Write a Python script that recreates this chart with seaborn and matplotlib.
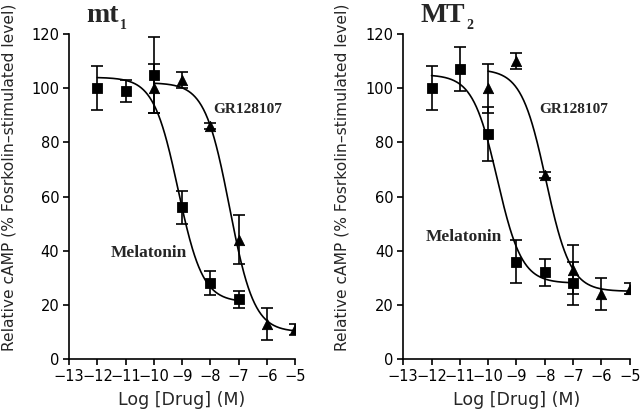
import numpy as np
import pandas as pd
import matplotlib
matplotlib.use("Agg")
import matplotlib.pyplot as plt
import seaborn as sns

sns.set_style("ticks")
plt.rcParams["font.family"] = ["DejaVu Sans"]

# log concentrations
mel_x = [-12, -11, -10, -9, -8, -7]
gr_x = [-10, -9, -8, -7, -6, -5]

# mt1 panel
mt1_mel = [100, 99, 105, 56, 28, 22]
mt1_mel_err = [8, 4, 14, 6, 4.5, 3]
mt1_gr = [100, 103, 86, 44, 13, 11]
mt1_gr_err = [9, 3, 1, 9, 6, 2]

# MT2 panel
mt2_mel = [100, 107, 83, 36, 32, 28]
mt2_mel_err = [8, 8, 10, 8, 5, 8]
mt2_gr = [100, 110, 68, 33, 24, 26]
mt2_gr_err = [9, 3, 1, 9, 6, 2]

# fitted curve parameters (top, bottom, logIC50)
mt1_mel_fit = (104, 21, -9.14)
mt1_gr_fit = (102, 10, -7.32)
mt2_mel_fit = (105, 28, -9.68)
mt2_gr_fit = (107, 25, -7.96)

ylabel = "Relative cAMP (% Fosrkolin\u2013stimulated level)"


def sigmoid(x, top, bottom, logic50):
    return bottom + (top - bottom) / (1 + 10 ** (x - logic50))


fig = plt.figure(figsize=(6.4, 4.19), dpi=100)
ax1 = fig.add_axes([0.108, 0.143, 0.353, 0.776])
ax2 = fig.add_axes([0.630, 0.143, 0.354, 0.776])

panels = [
    (ax1, "mt", "1", mt1_mel, mt1_mel_err, mt1_gr, mt1_gr_err,
     mt1_mel_fit, mt1_gr_fit, (-6.66, 92), (-10.17, 39)),
    (ax2, "MT", "2", mt2_mel, mt2_mel_err, mt2_gr, mt2_gr_err,
     mt2_mel_fit, mt2_gr_fit, (-6.97, 92), (-10.85, 45)),
]

for ax, title, sub, mel, mel_err, gr, gr_err, mel_fit, gr_fit, gr_pos, mel_pos in panels:
    # fitted curves
    xm = np.linspace(mel_x[0], mel_x[-1], 200)
    xg = np.linspace(gr_x[0], gr_x[-1], 200)
    sns.lineplot(x=xm, y=sigmoid(xm, *mel_fit), ax=ax, color="black", lw=1.2)
    sns.lineplot(x=xg, y=sigmoid(xg, *gr_fit), ax=ax, color="black", lw=1.2)

    # error bars
    ax.errorbar(mel_x, mel, yerr=mel_err, fmt="none", ecolor="black",
                elinewidth=1.2, capsize=4, capthick=1.2)
    ax.errorbar(gr_x, gr, yerr=gr_err, fmt="none", ecolor="black",
                elinewidth=1.2, capsize=4, capthick=1.2)

    # markers
    sns.scatterplot(x=mel_x, y=mel, ax=ax, marker="s", s=55, color="black",
                    edgecolor="black", zorder=5)
    sns.scatterplot(x=gr_x, y=gr, ax=ax, marker="^", s=55, color="black",
                    edgecolor="black", zorder=5)

    ax.text(gr_pos[0], gr_pos[1], "GR128107", family="Liberation Serif",
            fontweight="bold", fontsize=11, ha="center", va="center")
    ax.text(mel_pos[0], mel_pos[1], "Melatonin", family="Liberation Serif",
            fontweight="bold", fontsize=12.5, ha="center", va="center")

    ax.set_xlim(-13, -5)
    ax.set_ylim(0, 120)
    ax.set_xticks(range(-13, -4))
    ax.set_yticks(range(0, 121, 20))
    ax.tick_params(direction="out", length=4, width=1.2, labelsize=10.5,
                   colors="black", pad=3)
    for side in ["left", "bottom"]:
        ax.spines[side].set_linewidth(1.2)
        ax.spines[side].set_color("black")
    sns.despine(ax=ax)
    ax.set_xlabel("Log [Drug] (M)", fontsize=12.5, labelpad=5)
    ax.set_ylabel(ylabel, fontsize=11.2, labelpad=4)
    ax.yaxis.set_label_coords(-0.235, 0.56)

    t = ax.text(0.075, 1.037, title, transform=ax.transAxes,
                family="Liberation Serif", fontweight="bold", fontsize=20,
                ha="left", va="baseline")
    ax.annotate(sub, xy=(1, 0), xycoords=t, xytext=(1, -1),
                textcoords="offset points", family="Liberation Serif",
                fontweight="bold", fontsize=10, ha="left", va="baseline")

fig.savefig("out.png", dpi=100)
